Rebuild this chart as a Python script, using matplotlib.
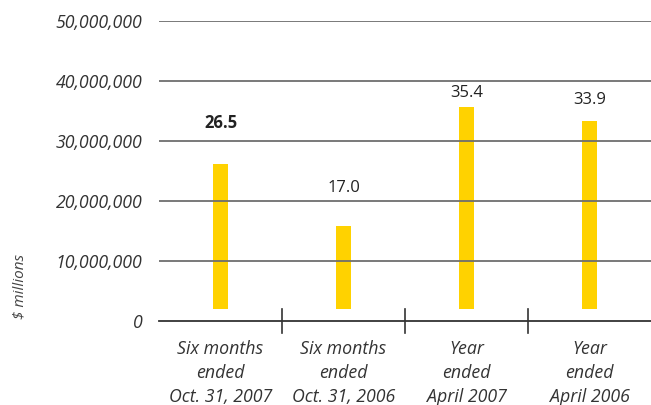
import matplotlib
matplotlib.use("Agg")
import matplotlib.pyplot as plt
import numpy as np

categories = ["Six months\nended\nOct. 31, 2007", "Six months\nended\nOct. 31, 2006",
              "Year\nended\nApril 2007", "Year\nended\nApril 2006"]
bar_tops = [26.2e6, 15.9e6, 35.7e6, 33.4e6]
bar_base = 2.0e6
value_labels = ["26.5", "17.0", "35.4", "33.9"]
label_heights = [33.0e6, 22.2e6, 38.0e6, 36.8e6]
label_bold = [True, False, False, False]
yticks = [0, 10e6, 20e6, 30e6, 40e6, 50e6]
ytick_labels = ["0", "10,000,000", "20,000,000", "30,000,000", "40,000,000", "50,000,000"]

plt.rcParams['font.family'] = ['Open Sans', 'DejaVu Sans']

fig = plt.figure(figsize=(6.51, 4.05), dpi=100)
ax = fig.add_axes([159/651, 1 - 321/405, (651-159)/651, (321-21)/405])

x = np.arange(len(categories))
heights = np.array(bar_tops) - bar_base
ax.bar(x, heights, bottom=bar_base, width=0.13, color="#FFD200", zorder=1)

for yt in yticks[1:]:
    ax.axhline(yt, color="#6e6e6e", lw=1.3, zorder=2)
ax.axhline(0, color="#333333", lw=1.3, zorder=3, clip_on=False)

for xi, lab, h, b in zip(x, value_labels, label_heights, label_bold):
    ax.text(xi, h, lab, ha="center", va="center", fontsize=12,
            fontweight="bold" if b else "normal", color="#222222")

ax.set_xlim(-0.5, len(categories) - 0.5)
ax.set_ylim(0, 50e6)
ax.set_yticks(yticks)
ax.set_yticklabels(ytick_labels, fontstyle="italic", fontsize=12.8, color="#333333")
ax.tick_params(axis="y", length=0, pad=12)

# category separators
for sep in x[:-1] + 0.5:
    ax.plot([sep, sep], [-2.0e6, 2.0e6], color="#333333", lw=1.2, clip_on=False, zorder=3)

ax.set_xticks(x)
ax.set_xticklabels(categories, fontstyle="italic", fontsize=12.8, color="#333333",
                   linespacing=1.42)
ax.tick_params(axis="x", length=0, pad=14)

for s in ax.spines.values():
    s.set_visible(False)

fig.text(20/651, 1 - 286/405, "$ millions", rotation=90, ha="center", va="center",
         fontstyle="italic", fontsize=11, color="#444444")

fig.savefig("out.png", dpi=100)
